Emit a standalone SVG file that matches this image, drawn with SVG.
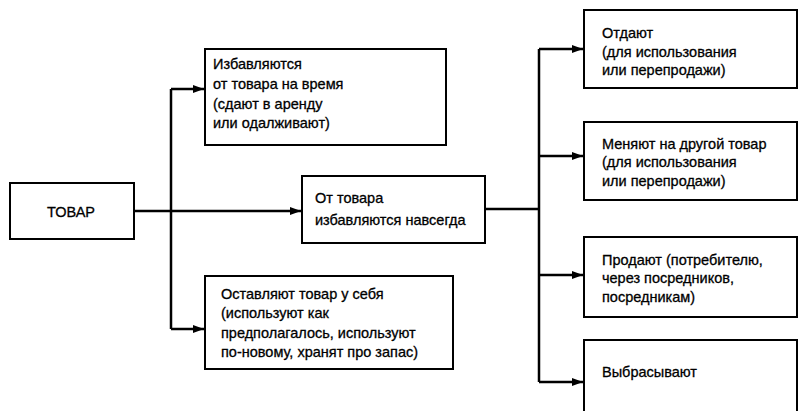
<svg xmlns="http://www.w3.org/2000/svg" width="798" height="411" viewBox="0 0 798 411">
<defs>
<style>
.box{fill:#fff;stroke:#000;stroke-width:2}
.t{font-family:"Liberation Sans",Arial,sans-serif;font-size:14.5px;fill:#000;stroke:#000;stroke-width:0.3}
.c{fill:none;stroke:#000;stroke-width:2.5}
</style>
<marker id="ah" viewBox="0 0 11 8" refX="11" refY="4" markerWidth="11" markerHeight="8" markerUnits="userSpaceOnUse" orient="auto">
<path d="M0,0 L11,4 L0,8 z" fill="#000"/>
</marker>
</defs>
<rect width="798" height="411" fill="#fff"/>
<g id="connectors">
<path class="c" d="M134,211 H301" marker-end="url(#ah)"/>
<path class="c" d="M171,89 V329"/>
<path class="c" d="M171,89 H204" marker-end="url(#ah)"/>
<path class="c" d="M171,329 H204" marker-end="url(#ah)"/>
<path class="c" d="M485,209 H539"/>
<path class="c" d="M539,49 V382"/>
<path class="c" d="M539,49 H583" marker-end="url(#ah)"/>
<path class="c" d="M539,156 H583" marker-end="url(#ah)"/>
<path class="c" d="M539,275 H583" marker-end="url(#ah)"/>
<path class="c" d="M539,382 H583" marker-end="url(#ah)"/>
</g>
<g id="tovar">
<rect class="box" x="10" y="183" width="124" height="56"/>
<text class="t" x="71" y="217" text-anchor="middle">ТОВАР</text>
</g>
<g id="temp">
<rect class="box" x="205" y="49" width="241" height="96"/>
<text class="t" x="213" y="69">Избавляются</text>
<text class="t" x="213" y="89">от товара на время</text>
<text class="t" x="213" y="109">(сдают в аренду</text>
<text class="t" x="213" y="128">или одалживают)</text>
</g>
<g id="forever">
<rect class="box" x="302" y="176" width="183" height="67"/>
<text class="t" x="315" y="203">От товара</text>
<text class="t" x="315" y="225">избавляются навсегда</text>
</g>
<g id="keep">
<rect class="box" x="205" y="276" width="248" height="93"/>
<text class="t" x="221" y="299">Оставляют товар у себя</text>
<text class="t" x="221" y="318">(используют как</text>
<text class="t" x="221" y="338">предполагалось, используют</text>
<text class="t" x="221" y="357">по-новому, хранят про запас)</text>
</g>
<g id="give">
<rect class="box" x="584" y="10" width="213" height="78"/>
<text class="t" x="602" y="38">Отдают</text>
<text class="t" x="602" y="57">(для использования</text>
<text class="t" x="602" y="75">или перепродажи)</text>
</g>
<g id="exchange">
<rect class="box" x="584" y="122" width="213" height="78"/>
<text class="t" x="602" y="149">Меняют на другой товар</text>
<text class="t" x="602" y="167">(для использования</text>
<text class="t" x="602" y="186">или перепродажи)</text>
</g>
<g id="sell">
<rect class="box" x="584" y="237" width="213" height="80"/>
<text class="t" x="602" y="265">Продают (потребителю,</text>
<text class="t" x="602" y="283">через посредников,</text>
<text class="t" x="602" y="302">посредникам)</text>
</g>
<g id="throw">
<rect class="box" x="584" y="340" width="213" height="80"/>
<text class="t" x="602" y="377">Выбрасывают</text>
</g>
</svg>
